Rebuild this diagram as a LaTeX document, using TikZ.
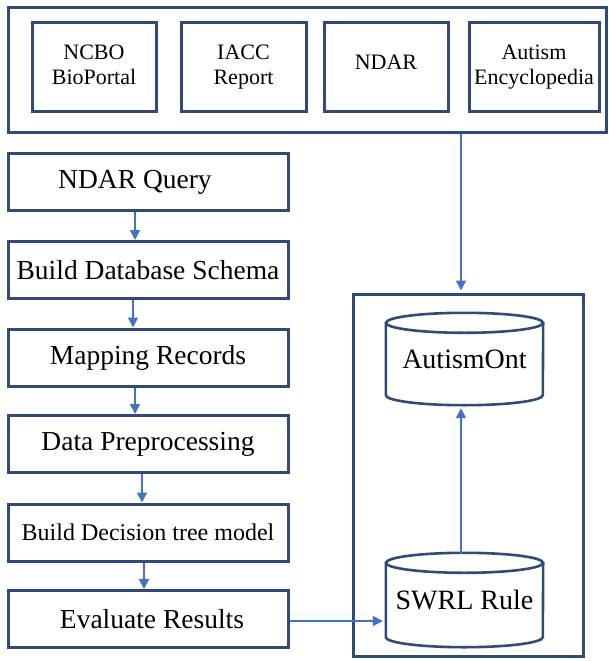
\documentclass[tikz,border=0pt]{standalone}
\usepackage{fontspec}
\setmainfont{Liberation Serif}
\newfontfamily\tnr{Liberation Serif}
\usetikzlibrary{arrows.meta,calc}
\definecolor{boxc}{RGB}{47,75,122}
\definecolor{arrc}{RGB}{68,114,196}
\begin{document}
\begin{tikzpicture}[x=1pt,y=-1pt,
  frame/.style={draw=boxc,line width=3pt,fill=none},
  srcbox/.style={draw=boxc,line width=3pt,minimum height=88pt,inner sep=0pt,
    font=\tnr\fontsize{22}{25}\selectfont,align=center},
  stepbox/.style={draw=boxc,line width=3pt,minimum width=280pt,minimum height=57pt,
    inner sep=0pt,font=\tnr\fontsize{27.5}{30}\selectfont},
  cylbox/.style={draw=none,minimum width=157pt,inner sep=0pt,font=\tnr\fontsize{28}{30}\selectfont},
  cylline/.style={draw=boxc,line width=2.6pt},
  arr/.style={draw=arrc,line width=1.7pt,-{Triangle[length=10pt,width=10pt]}}]
\useasboundingbox (0,0) rectangle (608,661);
% top sources
\node[frame,minimum width=598pt,minimum height=124pt,inner sep=0pt] (src) at (307,70) {};
\node[srcbox,minimum width=124pt] (ncbo) at (94,67) {\raisebox{-2pt}{\begin{tabular}{@{}c@{}}NCBO\\BioPortal\end{tabular}}};
\node[srcbox,minimum width=125pt] (iacc) at (243.5,67) {\raisebox{5pt}{\begin{tabular}{@{}c@{}}IACC\\Report\end{tabular}}};
\node[srcbox,minimum width=124pt] (ndar) at (386,67) {\raisebox{10pt}{NDAR}};
\node[srcbox,minimum width=130pt] (enc) at (534,67) {\raisebox{5pt}{\begin{tabular}{@{}c@{}}Autism\\Encyclopedia\end{tabular}}};
% left pipeline
\node[stepbox] (q1) at (148,182) {NDAR Query\hspace*{26pt}};
\node[stepbox] (q2) at (148,270) {Build Database Schema};
\node[stepbox] (q3) at (148,357.5) {Mapping Records};
\node[stepbox] (q4) at (148,444) {Data Preprocessing};
\node[stepbox,font=\tnr\fontsize{24}{28}\selectfont] (q5) at (148,532.5) {Build Decision tree model};
\node[stepbox] (q6) at (148,619) {\hspace*{8pt}Evaluate Results};
% right knowledge box
\node[frame,minimum width=230pt,minimum height=362pt,inner sep=0pt] (kb) at (468,475) {};
\node[cylbox,minimum height=92pt] (ao) at (464.5,359) {AutismOnt};
\node[cylbox,minimum height=94pt] (sw) at (464.5,600) {\raisebox{-8pt}{SWRL Rule}};
\foreach \c in {ao,sw}{
  \draw[cylline] ($(\c.north west)+(0,10)$) -- ($(\c.south west)+(0,-10)$)
    arc[start angle=180,end angle=360,x radius=78.5pt,y radius=10pt]
    -- ($(\c.north east)+(0,10)$);
  \draw[cylline] ($(\c.north)+(0,10)$) ellipse[x radius=78.5pt,y radius=10pt];
}
% arrows
\draw[arr] ([xshift=-13pt]q1.south) -- ([xshift=-13pt]q2.north);
\draw[arr] ([xshift=-15pt]q2.south) -- ([xshift=-15pt]q3.north);
\draw[arr] ([xshift=-13pt]q3.south) -- ([xshift=-13pt]q4.north);
\draw[arr] ([xshift=-6pt]q4.south) -- ([xshift=-6pt]q5.north);
\draw[arr] ([xshift=-4pt]q5.south) -- ([xshift=-4pt]q6.north);
\draw[arr] ([yshift=-2pt]q6.east) -- ([xshift=-3pt,yshift=-2pt]q6.east -| sw.west);
\draw[arr] ([xshift=-3.5pt,yshift=-1pt]sw.north) -- ([xshift=-3.5pt,yshift=-3pt]ao.south);
\draw[arr] (src.south -| 461,0) -- ([yshift=2pt]kb.north -| 461,0);
\end{tikzpicture}
\end{document}
